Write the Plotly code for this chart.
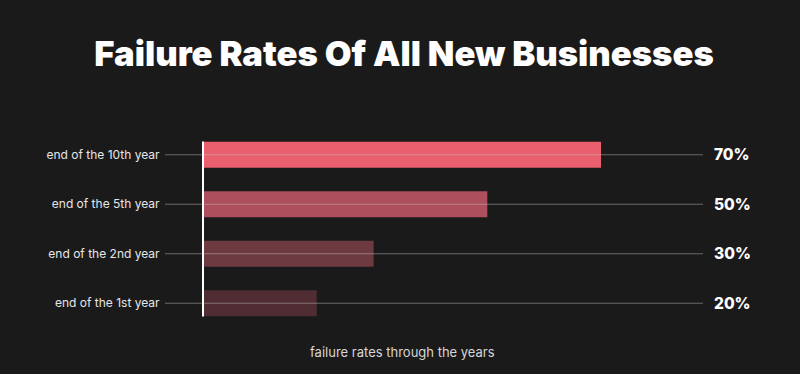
import plotly.graph_objects as go

categories = ["end of the 10th year", "end of the 5th year", "end of the 2nd year", "end of the 1st year"]
rates = [0.70, 0.50, 0.30, 0.20]
rate_labels = ["70%", "50%", "30%", "20%"]
bar_colors = ["#e95f6e", "#ad4f5c", "#6d3a42", "#4f2d33"]

BG = "#1b1a1b"

fig = go.Figure()
fig.add_trace(go.Bar(
    x=rates, y=categories, orientation="h",
    marker=dict(color=bar_colors, line=dict(width=0)),
    width=0.53, hoverinfo="skip",
))

# horizontal guide lines (drawn above bars)
for c in categories:
    fig.add_shape(type="line", xref="x domain", yref="y", x0=0, x1=1, y0=c, y1=c,
                  line=dict(color="rgba(200,200,200,0.45)", width=1), layer="above")

# vertical baseline
fig.add_shape(type="line", xref="x", yref="y domain", x0=0, x1=0, y0=0.058, y1=0.942,
              line=dict(color="#ffffff", width=2), layer="above")

for c, t in zip(categories, rate_labels):
    fig.add_annotation(x=1, xref="x domain", y=c, yref="y", text=t, showarrow=False,
                       xanchor="left", xshift=9,
                       font=dict(family="Inter", size=15.5, color="#ffffff", weight=800))

fig.add_annotation(x=0.442, xref="paper", y=-(352 - 327.6) / 197.2, yref="paper",
                   text="failure rates through the years",
                   showarrow=False, xanchor="center", yanchor="middle",
                   font=dict(family="Inter", size=13, color="#d6d6d6"))

fig.update_layout(
    width=800, height=374,
    paper_bgcolor=BG, plot_bgcolor=BG,
    margin=dict(l=165, r=97, t=130.4, b=46.4),
    showlegend=False,
    title=dict(text="Failure Rates Of All New Businesses", x=0.505, xref="container", xanchor="center",
               y=1 - 54 / 374, yref="container", yanchor="middle",
               font=dict(family="Inter", size=34.6, color="#ffffff", weight=900)),
    xaxis=dict(range=[-0.0668, 0.8793], showgrid=False, zeroline=False, showticklabels=False,
               showline=False, fixedrange=True),
    yaxis=dict(categoryorder="array", categoryarray=categories,
               range=[3.5, -0.5], showgrid=False, zeroline=False, showline=False,
               ticks="outside", ticklen=2, tickcolor="rgba(0,0,0,0)",
               tickfont=dict(family="Inter", size=12, color="#e6e6e6"), fixedrange=True),
)

fig.write_html("out.html", config={"displayModeBar": False})

with open("out.html", "r", encoding="utf-8") as f:
    html = f.read()
html = html.replace("<body>", '<body style="margin:0;background:#1b1a1b">', 1)
with open("out.html", "w", encoding="utf-8") as f:
    f.write(html)
